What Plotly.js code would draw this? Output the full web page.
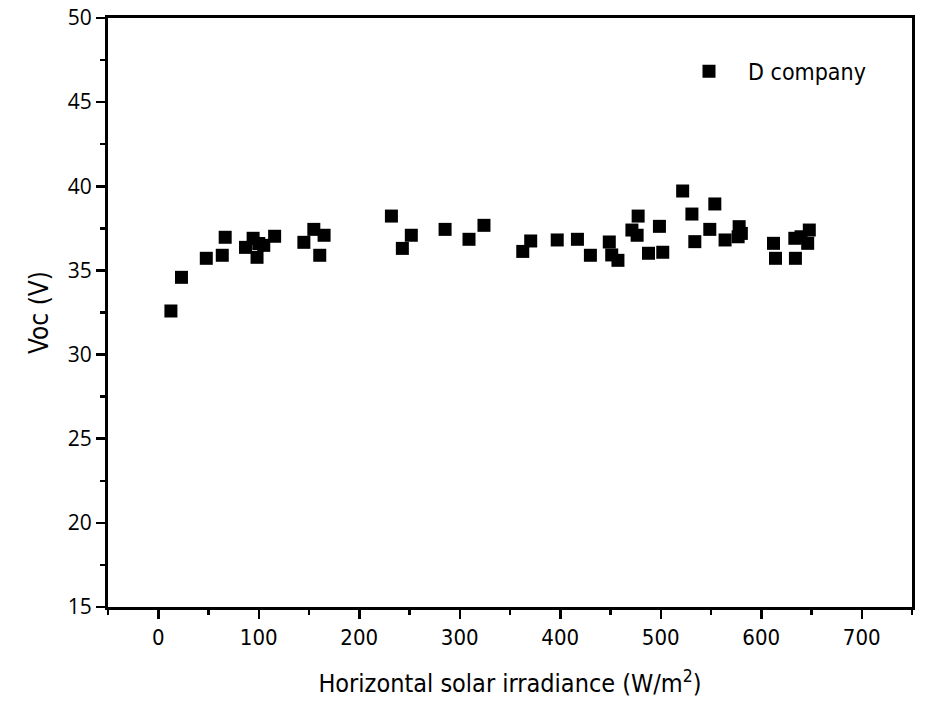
<!DOCTYPE html>
<html><head><meta charset="utf-8">
<script src="https://cdn.plot.ly/plotly-3.0.1.min.js"></script>
<style>html,body{margin:0;padding:0;background:#fff}#chart{width:946px;height:705px}</style>
</head><body><div id="chart"></div>
<script>
const seriesName = "D company";
const irradiance = [12.6,23.1,47.8,63.7,66.6,86.8,94.4,98.3,105,100,115.8,144.9,154.8,165,160.7,
  232,251.8,242.9,285.4,309.2,324.1,362.7,370.6,397,417.1,430,448.8,451.2,457.4,477.5,471.3,476.5,
  498.7,487.8,502,521.8,553.8,531,548.8,533.9,564,578,577,580.2,612.2,614.2,634,633.4,647.8,646.2,639.6];
const voc = [32.59,34.59,35.72,35.90,36.97,36.37,36.91,35.78,36.49,36.6,37.03,36.67,37.44,37.09,35.90,
  38.23,37.09,36.31,37.44,36.85,37.68,36.13,36.75,36.81,36.85,35.90,36.69,35.92,35.60,38.23,37.40,37.09,
  37.62,36.02,36.08,39.72,38.95,38.35,37.44,36.71,36.81,37.60,37.0,37.2,36.61,35.72,35.72,36.91,37.40,36.61,37.0];
const xTitle = "Horizontal solar irradiance (W/m<sup>2</sup>)";
const yTitle = "Voc (V)";

const narrow = "DejaVu Sans Condensed, Liberation Sans Narrow, sans-serif";
Plotly.newPlot("chart", [{
  x: irradiance, y: voc, type: "scatter", mode: "markers", name: seriesName,
  marker: {symbol: "square", size: 13, color: "#000"}
}], {
  width: 946, height: 705,
  margin: {l: 108, r: 34, t: 18, b: 98},
  paper_bgcolor: "#fff", plot_bgcolor: "#fff",
  showlegend: true,
  legend: {x: 0.699, y: 0.946, xanchor: "left", yanchor: "top", bgcolor: "rgba(0,0,0,0)",
    itemwidth: 68, font: {family: narrow, size: 23, color: "#000"}},
  xaxis: {
    range: [-50, 750], tick0: 0, dtick: 100, showgrid: false, zeroline: false,
    showline: true, linecolor: "#000", linewidth: 3, mirror: true,
    ticks: "outside", ticklen: 9, tickwidth: 2.5, tickcolor: "#000",
    minor: {ticks: "outside", dtick: 50, tick0: 0, ticklen: 5, tickwidth: 2.5, tickcolor: "#000", showgrid: false},
    tickfont: {family: narrow, size: 22, color: "#000"},
    title: {text: xTitle, font: {family: narrow, size: 25, color: "#000"}, standoff: 26}
  },
  yaxis: {
    range: [15, 50], tick0: 15, dtick: 5, showgrid: false, zeroline: false,
    showline: true, linecolor: "#000", linewidth: 3, mirror: true,
    ticks: "outside", ticklen: 9, tickwidth: 2.5, tickcolor: "#000",
    minor: {ticks: "outside", dtick: 2.5, tick0: 15, ticklen: 5, tickwidth: 2.5, tickcolor: "#000", showgrid: false},
    tickfont: {family: "Open Sans, sans-serif", size: 21, color: "#000"},
    title: {text: yTitle, font: {family: narrow, size: 26, color: "#000"}, standoff: 12}
  }
}, {displayModeBar: false, staticPlot: true});
</script></body></html>
